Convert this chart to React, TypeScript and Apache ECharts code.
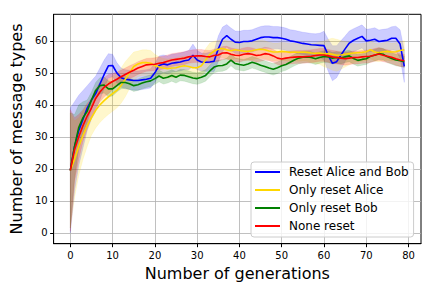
import React, { useEffect, useRef } from "react";
import * as echarts from "echarts";

const FONT = "DejaVu Sans";

const xTicks = [0, 10, 20, 30, 40, 50, 60, 70, 80];
const yTicks = [0, 10, 20, 30, 40, 50, 60];

const generations = Array.from({ length: 80 }, (_, i) => i);

const seriesNames = ["Reset Alice and Bob", "Only reset Alice", "Only reset Bob", "None reset"];
const seriesColors = ["#0000ff", "#ffd700", "#008000", "#ff0000"];
const bandColors = ["rgba(0,0,255,0.2)", "rgba(255,215,0,0.2)", "rgba(0,128,0,0.2)", "rgba(255,0,0,0.2)"];

const blueMean = [
  19.5, 27, 32, 35.5, 39, 41.5, 43.5, 46.5, 49.5, 52.2,
  52.3, 50, 48.5, 48, 47.8, 47.6, 47.6, 47.8, 48, 48.3,
  50, 52.3, 52.8, 52.5, 53, 53.2, 53.4, 53.8, 54, 55.5,
  54, 53.4, 53.3, 53.4, 53.6, 57.5, 60.5, 61.6, 60.5, 59.6,
  59.5, 59.8, 59.8, 60, 60.5, 61, 61.2, 61.2, 61, 61,
  60.8, 60.5, 60, 59.8, 59.5, 59.2, 59, 58.8, 58.7, 58.6,
  58.5, 55.5, 53, 53.5, 55.5, 57.5, 59.3, 60.2, 60.8, 61.4,
  60, 60.2, 60.5, 59.8, 60, 60.2, 60.8, 60.8, 59, 52,
];
const blueSpread = [
  19.5, 14, 11, 9, 7, 6, 5.5, 5, 4.5, 3.8,
  3.5, 3.2, 3, 3, 3, 3, 3, 3, 3, 3,
  3, 3, 2.8, 2.8, 2.8, 2.8, 2.8, 2.8, 3, 3.5,
  3, 2.8, 2.8, 3, 3.2, 4, 3.8, 3.5, 3.5, 3.5,
  3.5, 3.5, 3.5, 3.5, 3.5, 3.5, 3.5, 3.5, 3.5, 3.5,
  3.5, 3.5, 3.5, 3.5, 3.5, 3.5, 3.5, 3.5, 3.5, 3.8,
  4.5, 5, 5.5, 5, 4.5, 4, 3.8, 3.6, 3.6, 3.6,
  3.6, 3.6, 3.6, 3.6, 3.6, 3.6, 3.6, 3.8, 4.5, 5,
];

const yellowMean = [
  19.5, 23, 27, 30.5, 33.5, 36, 38.3, 40, 41.3, 42.5,
  43.5, 44.5, 46, 48, 50, 52, 52.8, 53.2, 53.2, 53,
  52.3, 51.8, 51.5, 51.3, 51.5, 51.6, 52, 52.2, 52, 51.6,
  51.6, 52.2, 54, 55.8, 56.8, 57.4, 57.6, 57.2, 56.9, 57.2,
  57, 56.8, 56.7, 56.9, 57.2, 57.4, 57.2, 56.8, 56.5, 56.5,
  56.7, 56.6, 56.4, 56.5, 56.4, 56.5, 56.4, 56.2, 56.1, 56.2,
  55.9, 56, 55.8, 55.5, 55.6, 55.8, 56, 56.2, 56.3, 56.4,
  56.6, 57.2, 56.5, 56.3, 56.6, 56.7, 56.5, 56.6, 57, 57.2,
];
const yellowSpread = [
  18, 12, 9, 7.5, 6.5, 5.5, 5.5, 5.5, 5.5, 5.5,
  5.5, 5.5, 5.5, 5.5, 5, 4.5, 4, 4, 4, 4,
  3.5, 3.2, 3, 3, 3, 3, 3, 3, 3, 3,
  3, 3, 3.5, 3.5, 3, 2.8, 2.8, 2.8, 2.8, 2.8,
  2.8, 2.8, 2.8, 2.8, 2.8, 2.8, 2.8, 2.8, 2.8, 2.8,
  2.8, 2.8, 2.8, 2.8, 2.8, 2.8, 2.8, 3, 3.2, 3.5,
  4, 4.5, 5, 5, 4.5, 4, 3.5, 3, 2.8, 2.8,
  2.8, 2.8, 2.8, 2.8, 2.8, 2.8, 2.8, 2.8, 2.8, 2.8,
];

const greenMean = [
  19.5, 27, 33, 36, 38, 41.5, 44.5, 46, 46.2, 45,
  45, 46, 47, 47, 46.6, 46, 46.3, 46.8, 47.2, 47.5,
  48.2, 49, 48.3, 48.6, 49.2, 48.6, 49.3, 49.2, 48.8, 48.4,
  48.2, 48.6, 49.2, 50.6, 51.8, 52.2, 52.3, 52.8, 54, 52.9,
  52.6, 52.4, 52.8, 53.3, 52.9, 52.4, 52, 51.5, 51.1, 51.6,
  52.2, 52.6, 53.3, 54, 54.6, 54.9, 55, 54.8, 54.4, 54.8,
  55.1, 55, 54.6, 54.8, 54.6, 55, 55.3, 54.5, 53.9, 54.2,
  54.4, 55.2, 55.5, 56, 55.8, 55, 54.5, 54, 53.8, 53.5,
];
const greenSpread = [
  18, 10, 7, 5, 3.5, 2.5, 2.5, 2.5, 2.5, 2.5,
  2.2, 2, 2, 1.8, 1.8, 1.8, 1.8, 1.8, 1.8, 1.8,
  1.8, 1.8, 1.8, 1.8, 1.8, 1.8, 1.8, 1.8, 1.8, 1.8,
  1.8, 1.8, 1.8, 1.8, 1.8, 1.8, 1.8, 1.8, 1.8, 1.8,
  1.8, 1.8, 1.8, 1.8, 1.8, 1.8, 1.8, 1.8, 1.8, 1.8,
  1.8, 1.8, 1.8, 1.8, 1.8, 1.8, 1.8, 1.8, 1.8, 1.8,
  1.8, 1.8, 1.8, 1.8, 1.8, 1.8, 1.8, 1.8, 1.8, 1.8,
  1.8, 1.8, 1.8, 1.8, 1.8, 1.8, 1.8, 1.8, 1.8, 1.8,
];

const redMean = [
  19.5, 26, 30, 33.5, 36.5, 39, 42, 44, 45.5, 46.5,
  47.3, 48, 48.8, 49.5, 50.2, 50.8, 51.5, 52, 52.5, 52.6,
  52.7, 53, 53.2, 53.6, 54, 54.2, 54.4, 54.6, 55, 55.2,
  55.3, 55.3, 55.1, 55, 55.4, 55.6, 56.2, 56.3, 55.8, 55.5,
  55.4, 55.8, 56, 55.8, 55.4, 55.6, 56, 55.8, 55.3, 54.6,
  54.3, 54.6, 54.8, 54.9, 55, 55, 55.1, 55.2, 55.4, 55.6,
  55.6, 55.3, 55, 54.8, 54.6, 54.4, 54.6, 54.8, 54.8, 55,
  55.1, 55.2, 55.6, 55.9, 55.5, 55.2, 54.9, 54.4, 54, 53.8,
];
const redSpread = [
  19, 10, 7, 5, 4, 3, 3, 3, 3, 3,
  2.5, 2.2, 2, 2, 2, 2, 2, 2, 2, 2,
  2, 2, 2, 2, 2, 2, 2, 2, 2, 2,
  2, 2, 2, 2, 2, 2, 2, 2, 2, 2,
  2, 2, 2, 2, 2, 2, 2, 2, 2, 2,
  2, 2, 2, 2, 2, 2, 2, 2, 2, 2,
  2, 2, 2, 2, 2, 2, 2, 2, 2, 2,
  2, 2, 2, 2, 2, 2, 2, 2, 2, 2,
];

const means = [blueMean, yellowMean, greenMean, redMean];
const spreads = [blueSpread, yellowSpread, greenSpread, redSpread];

function buildOption() {
  const bandSeries: any[] = [];
  const lineSeries: any[] = [];
  seriesNames.forEach((name, k) => {
    const mean = means[k];
    const spread = spreads[k];
    bandSeries.push({
      name: name + " band",
      type: "custom",
      data: [[0, mean[0]]],
      silent: true,
      z: 1,
      renderItem: (_params: any, api: any) => {
        const pts: number[][] = [];
        generations.forEach((g) => pts.push(api.coord([g, mean[g] + spread[g]])));
        for (let i = generations.length - 1; i >= 0; i--) {
          const g = generations[i];
          pts.push(api.coord([g, mean[g] - spread[g]]));
        }
        return {
          type: "polygon",
          shape: { points: pts },
          style: { fill: bandColors[k], stroke: bandColors[k], lineWidth: 0.5 },
          silent: true,
        };
      },
    });
    lineSeries.push({
      name,
      type: "line",
      data: generations.map((g) => [g, mean[g]]),
      symbol: "none",
      lineStyle: { color: seriesColors[k], width: 1.6 },
      itemStyle: { color: seriesColors[k] },
      z: 2,
    });
  });

  return {
    animation: false,
    backgroundColor: "#ffffff",
    grid: {
      left: 49.3,
      top: 14.3,
      right: 15,
      bottom: 47.3,
      show: true,
      borderColor: "#000",
      borderWidth: 1,
      backgroundColor: "transparent",
    },
    legend: {
      data: seriesNames.map((n) => ({ name: n, icon: "rect" })),
      orient: "vertical",
      left: 251,
      top: 162,
      itemWidth: 25,
      itemHeight: 2,
      itemGap: 4,
      padding: [3, 5, 4, 4],
      backgroundColor: "rgba(255,255,255,0.8)",
      borderColor: "#cccccc",
      borderWidth: 1,
      borderRadius: 3,
      textStyle: {
        fontFamily: FONT,
        fontSize: 12,
        color: "#000",
        lineHeight: 14,
        padding: [0, 0, 0, 4],
      },
    },
    xAxis: {
      type: "value",
      min: -3.95,
      max: 82.95,
      name: "Number of generations",
      nameLocation: "middle",
      nameGap: 18,
      nameTextStyle: { fontFamily: FONT, fontSize: 16, color: "#000" },
      axisLine: { show: true, onZero: false, lineStyle: { color: "#000", width: 1 } },
      axisTick: { show: true, length: 3.5, customValues: xTicks, lineStyle: { color: "#000" } },
      axisLabel: { customValues: xTicks, fontFamily: FONT, fontSize: 10, color: "#000", margin: 7 },
      splitLine: { show: true, lineStyle: { color: "#b0b0b0", width: 0.8 } },
    },
    yAxis: {
      type: "value",
      min: -3.4,
      max: 68.3,
      name: "Number of message types",
      nameLocation: "middle",
      nameGap: 25,
      nameTextStyle: { fontFamily: FONT, fontSize: 16, color: "#000" },
      axisLine: { show: true, onZero: false, lineStyle: { color: "#000", width: 1 } },
      axisTick: { show: true, length: 3.5, customValues: yTicks, lineStyle: { color: "#000" } },
      axisLabel: { customValues: yTicks, fontFamily: FONT, fontSize: 10, color: "#000", margin: 6 },
      splitLine: { show: true, lineStyle: { color: "#b0b0b0", width: 0.8 } },
    },
    series: [...bandSeries, ...lineSeries],
  };
}

export default function App() {
  const ref = useRef<HTMLDivElement>(null);
  useEffect(() => {
    if (!ref.current) return;
    const chart = echarts.init(ref.current, undefined, { renderer: "svg" });
    chart.setOption(buildOption() as any);
    return () => chart.dispose();
  }, []);
  return (
    <div
      ref={ref}
      style={{ position: "fixed", left: 0, top: 0, width: 436, height: 291, background: "#fff" }}
    />
  );
}
